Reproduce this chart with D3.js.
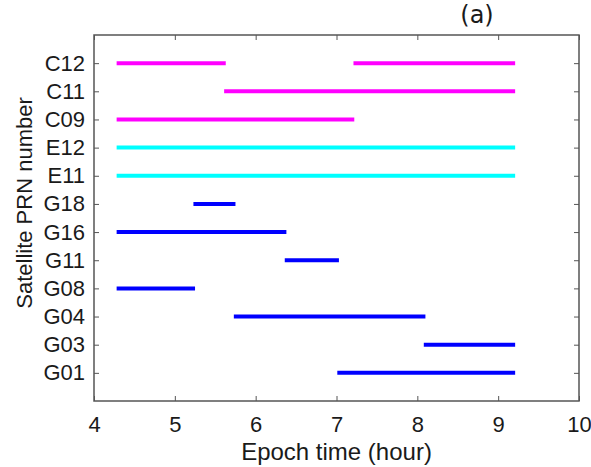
<!DOCTYPE html>
<html>
  <head>
    <meta charset="utf-8">
    <title>Satellite visibility</title>
    <script src="https://d3js.org/d3.v7.min.js"></script>
    <style>
      body { margin: 0; background: #fff; }
      svg text { font-family: "Liberation Sans", Arial, sans-serif; fill: #1a1a1a; }
    </style>
  </head>
  <body>
    <div id="chart"></div>
    <script>
      // satellites, bottom to top
      var prns = ["G01", "G03", "G04", "G08", "G11", "G16", "G18", "E11", "E12", "C09", "C11", "C12"];
      var xTicks = [4, 5, 6, 7, 8, 9, 10];
      // tracking arcs: [prn, start hour, end hour]
      var arcs = [
        ["C12", 4.28, 5.63], ["C12", 7.21, 9.21],
        ["C11", 5.61, 9.21],
        ["C09", 4.28, 7.22],
        ["E12", 4.28, 9.21],
        ["E11", 4.28, 9.21],
        ["G18", 5.23, 5.75],
        ["G16", 4.28, 6.38],
        ["G11", 6.36, 7.03],
        ["G08", 4.28, 5.25],
        ["G04", 5.73, 8.10],
        ["G03", 8.08, 9.21],
        ["G01", 7.01, 9.21]
      ];
      var systemColors = { G: "#0000ff", E: "#00ffff", C: "#ff00ff" };

      var width = 591, height = 467;
      var margin = { top: 35, right: 12, bottom: 66, left: 94 };
      var w = width - margin.left - margin.right,
          h = height - margin.top - margin.bottom;

      var svg = d3.select("#chart").append("svg")
        .attr("width", width)
        .attr("height", height);
      var g = svg.append("g")
        .attr("transform", "translate(" + margin.left + "," + margin.top + ")");

      var x = d3.scaleLinear().domain([4, 10]).range([0, w]);
      var y = d3.scaleLinear().domain([0, prns.length + 1]).range([h, 0]);
      var yPos = function(p) { return y(prns.indexOf(p) + 1); };

      // arcs
      g.selectAll(".arc")
        .data(arcs)
        .enter().append("line")
          .attr("class", "arc")
          .attr("x1", function(d) { return x(d[1]); })
          .attr("x2", function(d) { return x(d[2]); })
          .attr("y1", function(d) { return yPos(d[0]); })
          .attr("y2", function(d) { return yPos(d[0]); })
          .attr("stroke", function(d) { return systemColors[d[0][0]]; })
          .attr("stroke-width", 4);

      // axes, ticks pointing inward on all four sides
      var axisColor = "#555";
      var yVals = prns.map(function(p, i) { return i + 1; });
      function style(sel) {
        sel.attr("font-family", null).attr("font-size", null);
        sel.select(".domain").remove();
        sel.selectAll(".tick line").attr("stroke", axisColor).attr("stroke-width", 1);
        sel.selectAll(".tick text").attr("font-size", 22).attr("fill", "#1a1a1a");
      }
      g.append("g")
        .attr("transform", "translate(0," + h + ")")
        .call(d3.axisBottom(x).tickValues(xTicks).tickSize(-5).tickPadding(15).tickFormat(d3.format("d")))
        .call(style);
      g.append("g")
        .call(d3.axisTop(x).tickValues(xTicks).tickSize(-5).tickFormat(""))
        .call(style);
      g.append("g")
        .call(d3.axisLeft(y).tickValues(yVals).tickSize(-5).tickPadding(9)
          .tickFormat(function(v) { return prns[v - 1]; }))
        .call(style);
      g.append("g")
        .attr("transform", "translate(" + w + ",0)")
        .call(d3.axisRight(y).tickValues(yVals).tickSize(-5).tickFormat(""))
        .call(style);

      // box
      g.append("rect")
        .attr("width", w)
        .attr("height", h)
        .attr("fill", "none")
        .attr("stroke", axisColor)
        .attr("stroke-width", 1.5);

      // labels
      svg.append("text")
        .attr("x", margin.left + w / 2)
        .attr("y", 460)
        .attr("text-anchor", "middle")
        .attr("font-size", 24)
        .text("Epoch time (hour)");
      svg.append("text")
        .attr("transform", "translate(32,203) rotate(-90)")
        .attr("text-anchor", "middle")
        .attr("font-size", 22)
        .text("Satellite PRN number");
      svg.append("text")
        .attr("x", 477)
        .attr("y", 23)
        .attr("text-anchor", "middle")
        .attr("font-size", 24)
        .style("font-family", "'DejaVu Sans', Verdana, sans-serif")
        .text("(a)");
    </script>
  </body>
</html>
